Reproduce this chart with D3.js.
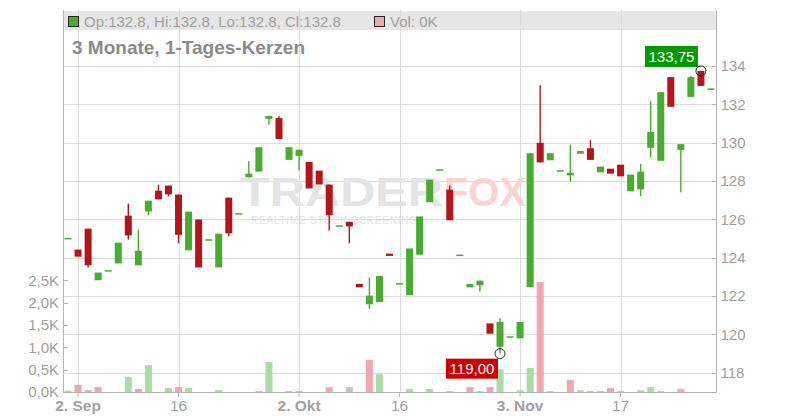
<!DOCTYPE html>
<html><head><meta charset="utf-8">
<script src="https://cdn.jsdelivr.net/npm/d3@7"></script>
<style>
html,body{margin:0;padding:0;background:#fff;}
svg{display:block;font-family:"Liberation Sans",Arial,sans-serif;}
</style></head>
<body>
<svg id="chart" width="800" height="420"></svg>
<script>
// ---- data ----
const dates = [
 "2025-09-01","2025-09-02","2025-09-03","2025-09-04","2025-09-05","2025-09-08","2025-09-09","2025-09-10","2025-09-11","2025-09-12",
 "2025-09-15","2025-09-16","2025-09-17","2025-09-18","2025-09-19","2025-09-22","2025-09-23","2025-09-24","2025-09-25","2025-09-26",
 "2025-09-29","2025-09-30","2025-10-01","2025-10-02","2025-10-03","2025-10-06","2025-10-07","2025-10-08","2025-10-09","2025-10-10",
 "2025-10-13","2025-10-14","2025-10-15","2025-10-16","2025-10-17","2025-10-20","2025-10-21","2025-10-22","2025-10-23","2025-10-24",
 "2025-10-27","2025-10-28","2025-10-29","2025-10-30","2025-10-31","2025-11-03","2025-11-04","2025-11-05","2025-11-06","2025-11-07",
 "2025-11-10","2025-11-11","2025-11-12","2025-11-13","2025-11-14","2025-11-17","2025-11-18","2025-11-19","2025-11-20","2025-11-21",
 "2025-11-24","2025-11-25","2025-11-26","2025-11-27","2025-11-28"];
const open  = [125.0,124.43,125.52,122.83,123.32,123.71,126.2,123.61,126.42,127.5,
 127.77,127.3,124.39,126.0,124.93,123.5,127.14,126.29,128.2,128.5,
 131.25,131.29,129.11,129.32,129.0,128.55,127.82,125.66,125.88,122.64,
 121.58,121.69,124.22,122.64,122.06,124.16,126.9,128.58,127.56,124.13,
 122.46,122.57,120.58,119.36,119.87,119.8,122.47,130.0,129.09,128.53,
 128.3,129.43,129.72,128.46,128.65,128.86,127.47,127.57,129.74,129.06,
 133.43,129.63,132.4,133.75,132.8];
const high  = [125.0,124.43,125.52,123.23,123.32,124.79,126.83,125.47,126.98,127.82,
 127.77,127.3,126.41,126.0,124.93,125.26,127.14,126.29,129.04,129.77,
 131.4,131.39,129.77,129.64,129.0,128.55,127.82,125.66,125.88,122.64,
 122.97,123.05,124.22,122.64,124.49,126.16,128.08,128.58,127.77,124.13,
 122.64,122.81,120.58,120.85,119.87,120.65,129.46,133.0,129.46,128.53,
 129.9,129.57,130.14,128.76,128.65,128.86,128.34,128.91,132.17,132.64,
 133.43,129.93,133.5,133.75,132.8];
const low   = [125.0,124.06,123.5,122.83,123.32,123.71,124.96,123.61,126.22,127.05,
 127.21,124.76,124.39,123.5,124.93,123.5,125.12,126.29,128.2,128.5,
 130.94,130.2,129.11,128.56,127.62,127.83,125.43,125.66,124.76,122.46,
 121.34,121.69,124.1,122.64,122.06,124.16,126.9,128.58,125.96,124.13,
 122.46,122.24,120.04,119.0,119.87,119.8,122.47,128.98,129.09,128.53,
 127.99,129.43,129.11,128.46,128.39,128.25,127.47,127.21,129.22,129.06,
 131.88,127.42,132.4,132.97,132.8];
const close = [125.0,124.06,123.61,123.23,123.32,124.79,125.17,124.37,126.98,127.05,
 127.31,125.2,126.41,123.5,124.93,125.26,125.28,126.29,128.39,129.77,
 131.4,130.2,129.77,129.64,127.62,127.83,126.22,125.66,125.64,122.46,
 122.03,123.05,124.1,122.64,124.49,126.16,128.08,128.58,125.96,124.13,
 122.64,122.81,120.04,120.65,119.87,120.65,129.46,128.98,129.46,128.53,
 128.44,129.57,129.11,128.76,128.39,128.25,128.34,128.5,130.56,132.64,
 131.88,129.93,133.43,132.97,132.8];
const volume = [30,160,45,110,0,0,340,70,600,0,
 90,110,90,0,0,45,0,0,0,20,
 670,0,20,20,0,0,110,0,110,0,
 720,400,0,0,70,0,70,0,20,0,
 110,20,110,510,0,40,540,2460,20,0,
 270,40,20,20,90,20,0,40,110,20,
 0,70,0,0,0];
// u = up (green), d = down (pink), n = unchanged (gray)
const volDir = ["u","d","d","d","u","u","u","d","u","u",
 "u","d","u","u","u","u","u","u","u","u",
 "u","d","d","d","d","d","d","d","n","d",
 "d","u","u","u","u","u","u","u","d","d",
 "d","u","d","u","u","u","u","d","u","u",
 "d","u","d","d","d","d","u","u","u","u",
 "d","d","u","u","u"];
const priceTicks = [118,120,122,124,126,128,130,132,134];
const volTicks = [0,500,1000,1500,2000,2500];
const volTickLabels = ["0,0K","0,5K","1,0K","1,5K","2,0K","2,5K"];
const dateTicks = ["2025-09-02","2025-09-16","2025-10-02","2025-10-16","2025-11-03","2025-11-17"];
const dateTickLabels = ["2. Sep","16","2. Okt","16","3. Nov","17"];
const dateTickBold = [true,false,true,false,true,false];
const title = "3 Monate, 1-Tages-Kerzen";
const legendText = "Op:132.8, Hi:132.8, Lo:132.8, Cl:132.8";
const legendVol = "Vol: 0K";
const maxLabel = "133,75";
const minLabel = "119,00";

// ---- layout ----
const L = 63, R = 716, T = 10, B = 392;
const svg = d3.select("#chart");
const x = d3.scaleBand().domain(dates).range([L, R]);
const cx = d => x(d) + x.bandwidth() / 2;
const y = d3.scaleLinear().domain([117, 136.93]).range([B, T]);
const yv = d3.scaleLinear().domain([0, 2500]).range([B, B - 44.7 * 2.5]);

const GREEN = "#48ab32", RED = "#b3161a";
const VGREEN = "#aadca6", VRED = "#f0a7ae", VGRAY = "#c2c2c2";
const GRID = "#dcdcdc", AXIS = "#b4b4b4", TXT = "#a0a0a0";

// legend band
svg.append("rect").attr("x", L).attr("y", 11).attr("width", R - L).attr("height", 19).attr("fill", "#e6e6e6");

// grid
svg.append("g").selectAll("line").data(priceTicks).join("line")
  .attr("x1", L).attr("x2", R).attr("y1", d => Math.round(y(d)) + 0.5).attr("y2", d => Math.round(y(d)) + 0.5)
  .attr("stroke", GRID).attr("stroke-width", 1);
svg.append("g").selectAll("line").data(dateTicks).join("line")
  .attr("x1", d => Math.round(cx(d)) + 0.5).attr("x2", d => Math.round(cx(d)) + 0.5).attr("y1", T).attr("y2", B)
  .attr("stroke", GRID).attr("stroke-width", 1);

// watermark
const wm = svg.append("g").attr("font-family", "'Liberation Sans',Arial,sans-serif");
wm.append("text").attr("x", 240).attr("y", 206).attr("font-size", 40).attr("font-weight", "bold")
  .attr("fill", "#e4e4e4").attr("textLength", 203).attr("lengthAdjust", "spacingAndGlyphs").text("TRADER");
wm.append("text").attr("x", 444).attr("y", 206).attr("font-size", 40).attr("font-weight", "bold")
  .attr("fill", "#fbd3d7").attr("textLength", 82).attr("lengthAdjust", "spacingAndGlyphs").text("FOX");
wm.append("text").attr("x", 251).attr("y", 224).attr("font-size", 10)
  .attr("fill", "#e2e2e2").attr("textLength", 166).attr("lengthAdjust", "spacing").text("REALTIME STOCK SCREENING");

// volume bars
const vcol = d => d === "u" ? VGREEN : (d === "d" ? VRED : VGRAY);
svg.append("g").selectAll("rect").data(dates.map((d, i) => ({d, v: volume[i], c: volDir[i]})).filter(o => o.v > 0)).join("rect")
  .attr("x", o => cx(o.d) - 3.5).attr("width", 7)
  .attr("y", o => yv(o.v)).attr("height", o => B - yv(o.v))
  .attr("fill", o => vcol(o.c));

// candles
const candles = dates.map((d, i) => ({d, o: open[i], h: high[i], l: low[i], c: close[i]}));
const cg = svg.append("g");
candles.forEach(k => {
  const up = k.c >= k.o;
  const col = up ? GREEN : RED;
  const xc = cx(k.d);
  if (k.h > Math.max(k.o, k.c) + 0.001 || k.l < Math.min(k.o, k.c) - 0.001) {
    cg.append("line").attr("x1", xc).attr("x2", xc).attr("y1", y(k.h)).attr("y2", y(k.l))
      .attr("stroke", col).attr("stroke-width", 1.4);
  }
  const top = y(Math.max(k.o, k.c)), bot = y(Math.min(k.o, k.c));
  const h = Math.max(bot - top, 1.5);
  cg.append("rect").attr("x", xc - 3.5).attr("width", 7).attr("y", top - (bot - top < 1.5 ? 0.75 : 0)).attr("height", h).attr("fill", col);
});

// axes lines
svg.append("line").attr("x1", L + 0.5).attr("x2", L + 0.5).attr("y1", T).attr("y2", B).attr("stroke", AXIS);
svg.append("line").attr("x1", R + 0.5).attr("x2", R + 0.5).attr("y1", T).attr("y2", B).attr("stroke", AXIS);
svg.append("line").attr("x1", L).attr("x2", R + 1).attr("y1", B + 0.5).attr("y2", B + 0.5).attr("stroke", AXIS);

// right price axis
const ra = svg.append("g").attr("transform", `translate(${R + 0.5},0)`)
  .call(d3.axisRight(y).tickValues(priceTicks).tickSize(0).tickPadding(4).tickFormat(d3.format("d")));
ra.select(".domain").remove();
ra.selectAll("text").attr("fill", TXT).attr("font-size", 15).attr("font-family", "'Liberation Sans',Arial,sans-serif");
svg.append("g").selectAll("line").data(priceTicks).join("line")
  .attr("x1", R - 4).attr("x2", R).attr("y1", d => Math.round(y(d)) + 0.5).attr("y2", d => Math.round(y(d)) + 0.5)
  .attr("stroke", AXIS);

// left volume axis
const la = svg.append("g").attr("transform", `translate(${L - 4},0)`)
  .call(d3.axisLeft(yv).tickValues(volTicks).tickSize(0).tickPadding(0).tickFormat((d, i) => volTickLabels[i]));
la.select(".domain").remove();
la.selectAll("text").attr("fill", TXT).attr("font-size", 15).attr("font-family", "'Liberation Sans',Arial,sans-serif");
svg.append("g").selectAll("line").data(volTicks).join("line")
  .attr("x1", L).attr("x2", L + 5).attr("y1", d => Math.round(yv(d)) + 0.5).attr("y2", d => Math.round(yv(d)) + 0.5)
  .attr("stroke", AXIS);

// bottom date axis
const ba = svg.append("g").attr("transform", `translate(0,${B + 0.5})`)
  .call(d3.axisBottom(x).tickValues(dateTicks).tickSize(4).tickPadding(3).tickFormat((d, i) => dateTickLabels[i]));
ba.select(".domain").remove();
ba.selectAll(".tick line").attr("stroke", AXIS);
ba.selectAll("text").attr("fill", TXT).attr("font-size", 15.5).attr("font-family", "'Liberation Sans',Arial,sans-serif")
  .attr("font-weight", (d, i) => dateTickBold[i] ? "bold" : "normal");

// legend
svg.append("rect").attr("x", 68.5).attr("y", 16.5).attr("width", 10).attr("height", 10).attr("fill", GREEN).attr("stroke", "#222");
svg.append("text").attr("x", 84).attr("y", 26.5).attr("font-size", 15).attr("fill", TXT).text(legendText);
svg.append("rect").attr("x", 374.5).attr("y", 16.5).attr("width", 10).attr("height", 10).attr("fill", VRED).attr("stroke", "#222");
svg.append("text").attr("x", 390).attr("y", 26.5).attr("font-size", 15).attr("fill", TXT).text(legendVol);

// title
svg.append("text").attr("x", 72).attr("y", 53.5).attr("font-size", 19).attr("font-weight", "bold").attr("fill", "#8a8a8a").text(title);

// max / min markers
const iMax = high.indexOf(d3.max(high));
const iMin = low.indexOf(d3.min(low));
const mx = cx(dates[iMax]), my = y(high[iMax]);
svg.append("rect").attr("x", mx - 56).attr("y", my - 25).attr("width", 53).attr("height", 21).attr("fill", "#009a00");
svg.append("text").attr("x", mx - 29.5).attr("y", my - 9).attr("text-anchor", "middle").attr("font-size", 15).attr("fill", "#fff").text(maxLabel);
svg.append("circle").attr("cx", mx).attr("cy", my).attr("r", 5).attr("fill", "none").attr("stroke", "#222").attr("stroke-width", 1);
const nx = cx(dates[iMin]), ny = y(low[iMin]);
svg.append("rect").attr("x", nx - 54).attr("y", ny + 5).attr("width", 52).attr("height", 20).attr("fill", "#cc0000");
svg.append("text").attr("x", nx - 28).attr("y", ny + 20.5).attr("text-anchor", "middle").attr("font-size", 15).attr("fill", "#fff").text(minLabel);
svg.append("circle").attr("cx", nx).attr("cy", ny).attr("r", 5).attr("fill", "none").attr("stroke", "#222").attr("stroke-width", 1);
</script>
</body></html>
